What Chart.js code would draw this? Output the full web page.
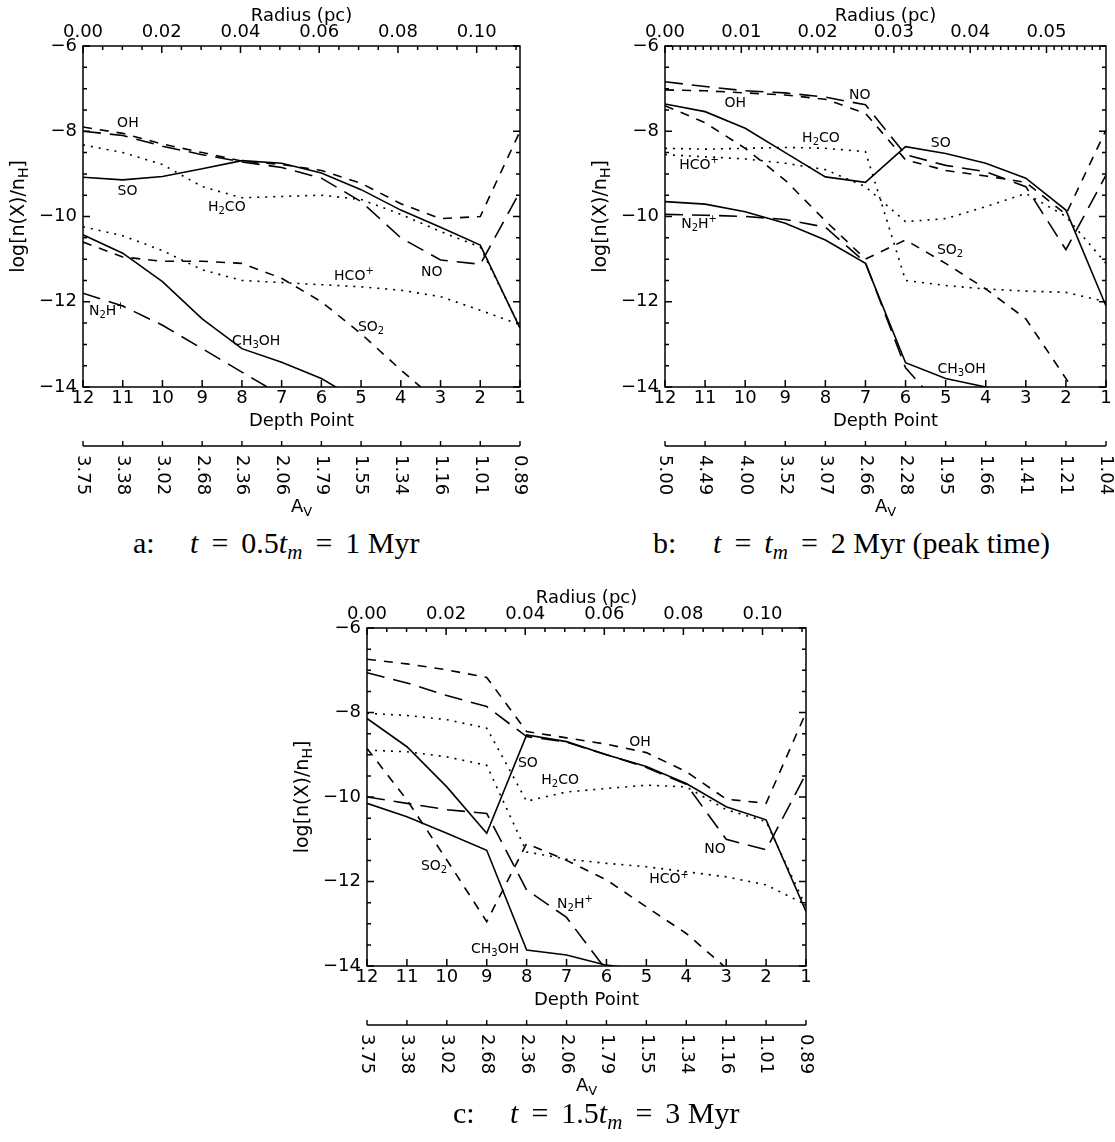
<!DOCTYPE html>
<html>
<head>
<meta charset="utf-8">
<script src="https://cdn.jsdelivr.net/npm/chart.js@4.4.1/dist/chart.umd.min.js"></script>
<style>
  html, body { margin: 0; padding: 0; background: #fff; }
  body { position: relative; width: 1115px; height: 1142px; overflow: hidden; }
  canvas { position: absolute; display: block; }
  .cap { position: absolute; font-family: "Liberation Serif", "DejaVu Serif", serif; font-size: 30px; line-height: 30px; color: #000; white-space: nowrap; }
  .cap .f { position: absolute; top: 0; }
  .cap .eq { display: inline-block; width: 23px; text-align: center; margin: 0 10px; }
  .cap sub { font-size: 21px; line-height: 0; vertical-align: -6px; }
</style>
</head>
<body>
<canvas id="panelA" width="545" height="525" style="left:0px;top:0px"></canvas>
<canvas id="panelB" width="533" height="525" style="left:582px;top:0px"></canvas>
<canvas id="panelC" width="545" height="530" style="left:284px;top:582px"></canvas>

<div class="cap" style="left:133px;top:528px">a:<span class="f" style="left:57px"><i>t</i><span class="eq">=</span>0.5<i>t</i><sub><i>m</i></sub><span class="eq">=</span>1&nbsp;Myr</span></div>
<div class="cap" style="left:653px;top:528px">b:<span class="f" style="left:60px"><i>t</i><span class="eq">=</span><i>t</i><sub><i>m</i></sub><span class="eq">=</span>2&nbsp;Myr (peak time)</span></div>
<div class="cap" style="left:453px;top:1098px">c:<span class="f" style="left:57px"><i>t</i><span class="eq">=</span>1.5<i>t</i><sub><i>m</i></sub><span class="eq">=</span>3&nbsp;Myr</span></div>

<script>
// Depth points run from the cloud centre (12) out to the edge (1).
const depthPoints = [12, 11, 10, 9, 8, 7, 6, 5, 4, 3, 2, 1];

// Visual extinction at each depth point (second axis under each panel).
const avLabelsAC = ['3.75', '3.38', '3.02', '2.68', '2.36', '2.06', '1.79', '1.55', '1.34', '1.16', '1.01', '0.89'];
const avLabelsB  = ['5.00', '4.49', '4.00', '3.52', '3.07', '2.66', '2.28', '1.95', '1.66', '1.41', '1.21', '1.04'];

// Radius axis along the top of each panel (pc).
const radiusTicksAC = [0.00, 0.02, 0.04, 0.06, 0.08, 0.10];
const radiusTicksB  = [0.00, 0.01, 0.02, 0.03, 0.04, 0.05];
const yTicks = [-14, -12, -10, -8, -6];

// log fractional abundances, t = 1 Myr
const ohA    = [-7.9, -8.05, -8.3, -8.5, -8.7, -8.78, -8.92, -9.22, -9.7, -10.05, -10.0, -8.0];
const noA    = [-8.0, -8.1, -8.35, -8.55, -8.72, -8.85, -9.1, -9.65, -10.5, -11.02, -11.12, -9.42];
const soA    = [-9.08, -9.14, -9.06, -8.88, -8.69, -8.75, -8.98, -9.37, -9.85, -10.25, -10.67, -12.62];
const h2coA  = [-8.32, -8.5, -8.78, -9.3, -9.56, -9.53, -9.5, -9.6, -9.95, -10.35, -10.72, -12.6];
const hcoA   = [-10.24, -10.45, -10.8, -11.25, -11.5, -11.55, -11.6, -11.65, -11.73, -11.88, -12.2, -12.54];
const so2A   = [-10.6, -10.95, -11.05, -11.05, -11.1, -11.45, -12.0, -12.75, -13.6, -14.4, null, null];
const n2hA   = [-11.8, -12.1, -12.55, -13.1, -13.65, -14.2, null, null, null, null, null, null];
const ch3ohA = [-10.43, -10.86, -11.53, -12.4, -13.1, -13.42, -13.8, -14.35, null, null, null, null];

// log fractional abundances, t = 2 Myr
const ohB    = [-7.03, -7.05, -7.1, -7.15, -7.25, -7.58, -8.67, -8.92, -9.05, -9.2, -9.95, -7.97];
const noB    = [-6.84, -6.95, -7.05, -7.1, -7.2, -7.38, -8.55, -8.8, -8.95, -9.3, -10.78, -9.03];
const soB    = [-7.36, -7.54, -7.93, -8.5, -9.07, -9.2, -8.36, -8.52, -8.75, -9.1, -9.85, -12.1];
const h2coB  = [-8.4, -8.42, -8.4, -8.38, -8.4, -8.48, -11.5, -11.62, -11.7, -11.75, -11.78, -12.0];
const hcoB   = [-8.55, -8.6, -8.65, -8.75, -8.9, -9.3, -10.12, -10.05, -9.77, -9.46, -10.0, -11.1];
const so2B   = [-7.4, -7.8, -8.4, -9.15, -10.1, -11.0, -10.55, -11.1, -11.7, -12.4, -13.8, -15.2];
const n2hB   = [-9.95, -9.97, -10.0, -10.07, -10.25, -11.08, -13.55, -14.6, null, null, null, null];
const ch3ohB = [-9.65, -9.71, -9.89, -10.16, -10.55, -11.1, -13.43, -13.8, -14.0, -14.2, null, null];

// log fractional abundances, t = 3 Myr
const ohC    = [-6.74, -6.85, -6.99, -7.17, -8.45, -8.6, -8.75, -8.95, -9.4, -10.05, -10.15, -8.0];
const noC    = [-7.06, -7.3, -7.6, -7.86, -8.57, -8.7, -9.0, -9.3, -9.7, -11.0, -11.25, -9.45];
const soC    = [-8.14, -8.81, -9.76, -10.86, -8.53, -8.69, -9.0, -9.28, -9.68, -10.23, -10.54, -12.71];
const h2coC  = [-8.02, -8.07, -8.17, -8.37, -10.1, -9.88, -9.8, -9.72, -9.76, -10.3, -10.58, -12.6];
const hcoC   = [-8.89, -8.93, -9.05, -9.25, -11.3, -11.47, -11.57, -11.65, -11.77, -11.89, -12.08, -12.55];
const so2C   = [-8.85, -10.07, -11.49, -12.95, -11.1, -11.5, -11.96, -12.6, -13.23, -14.05, null, null];
const n2hC   = [-10.0, -10.15, -10.3, -10.39, -12.2, -12.85, -14.1, null, null, null, null, null];
const ch3ohC = [-10.15, -10.47, -10.86, -11.26, -13.62, -13.74, -13.98, -14.1, null, null, null, null];

// Species name tags: [name, depth point, log abundance] ('_' = subscript, '^' = superscript)
const tagsA = [['OH', 10.87, -7.81], ['SO', 10.88, -9.4], ['H_2CO', 8.38, -9.78], ['N_2H^+', 11.4, -12.22],
               ['CH_3OH', 7.64, -12.92], ['HCO^+', 5.18, -11.4], ['SO_2', 4.75, -12.6], ['NO', 3.22, -11.3]];
const tagsB = [['NO', 7.14, -7.15], ['OH', 10.25, -7.34], ['H_2CO', 8.11, -8.16], ['HCO^+', 11.15, -8.79],
               ['SO', 5.12, -8.28], ['N_2H^+', 11.15, -10.18], ['SO_2', 4.89, -10.79], ['CH_3OH', 4.6, -13.58]];
const tagsC = [['SO', 7.97, -9.2], ['H_2CO', 7.16, -9.6], ['SO_2', 10.32, -11.63], ['CH_3OH', 8.79, -13.6],
               ['N_2H^+', 6.79, -12.53], ['OH', 5.16, -8.7], ['NO', 3.28, -11.23], ['HCO^+', 4.43, -11.96]];

// Line style per species
const DASH = {
  OH: [9, 8], NO: [18, 9], SO: [], H2CO: [2, 6],
  HCO: [2, 6], SO2: [9, 8], N2H: [18, 9], CH3OH: []
};

const FONT = '"DejaVu Sans", sans-serif';
const AXIS_SIZE = 18;
Chart.defaults.font.family = FONT;
Chart.defaults.font.size = AXIS_SIZE;
Chart.defaults.color = '#000';

function parseTag(s) {
  const out = [];
  for (let i = 0; i < s.length; i++) {
    const c = s[i];
    if ((c === '_' || c === '^') && i + 1 < s.length) {
      out.push({ t: s[i + 1], k: c === '_' ? 'sub' : 'sup' });
      i++;
    } else if (out.length && !out[out.length - 1].k) {
      out[out.length - 1].t += c;
    } else {
      out.push({ t: c, k: null });
    }
  }
  return out;
}

function drawRich(ctx, segs, cx, cy, size) {
  const small = Math.round(size * 0.72);
  let total = 0;
  segs.forEach(s => {
    ctx.font = `${s.k ? small : size}px ${FONT}`;
    s.w = ctx.measureText(s.t).width;
    total += s.w;
  });
  let x = cx - total / 2;
  ctx.textAlign = 'left';
  ctx.textBaseline = 'middle';
  segs.forEach(s => {
    ctx.font = `${s.k ? small : size}px ${FONT}`;
    const dy = s.k === 'sub' ? size * 0.3 : (s.k === 'sup' ? -size * 0.33 : 0);
    ctx.fillText(s.t, x, cy + dy);
    x += s.w;
  });
}

function makePanel(id, cfg) {
  const names = ['OH', 'NO', 'SO', 'H2CO', 'HCO', 'SO2', 'N2H', 'CH3OH'];
  const datasets = names.map(n => ({
    label: n,
    data: depthPoints.map((d, i) => ({ x: d, y: cfg.series[n][i] })),
    borderColor: '#000',
    borderWidth: 1.6,
    borderDash: DASH[n],
    pointRadius: 0,
    tension: 0,
    fill: false,
    spanGaps: false,
    clip: 0
  }));

  const decor = {
    id: 'decor_' + id,
    afterDatasetsDraw(chart) {
      const { ctx, chartArea: a, scales } = chart;
      const x = scales.x, y = scales.y, xr = scales.xr;
      ctx.save();
      ctx.strokeStyle = '#000';
      ctx.fillStyle = '#000';
      ctx.lineWidth = 1.5;
      ctx.setLineDash([]);
      // plot frame
      ctx.strokeRect(a.left, a.top, a.right - a.left, a.bottom - a.top);
      ctx.beginPath();
      // left / right ticks every 0.5 dex, longer on the labelled values
      for (let k = 0; k <= 16; k++) {
        const py = y.getPixelForValue(-14 + k * 0.5);
        const len = k % 4 === 0 ? 7 : 4;
        ctx.moveTo(a.left, py); ctx.lineTo(a.left + len, py);
        ctx.moveTo(a.right, py); ctx.lineTo(a.right - len, py);
      }
      // radius ticks along the top
      const n = Math.floor(cfg.rMax / cfg.rMinor + 1e-6);
      for (let i = 0; i <= n; i++) {
        const px = xr.getPixelForValue(i * cfg.rMinor);
        const len = i % cfg.rEvery === 0 ? 7 : 4;
        ctx.moveTo(px, a.top); ctx.lineTo(px, a.top + len);
      }
      // depth point ticks along the bottom
      depthPoints.forEach(d => {
        const px = x.getPixelForValue(d);
        ctx.moveTo(px, a.bottom); ctx.lineTo(px, a.bottom - 7);
      });
      ctx.stroke();

      // species name tags
      ctx.lineWidth = 1;
      cfg.tags.forEach(([t, d, v]) => {
        drawRich(ctx, parseTag(t), x.getPixelForValue(d), y.getPixelForValue(v), 14);
      });

      // y-axis title
      ctx.save();
      ctx.translate(a.left - 64, (a.top + a.bottom) / 2);
      ctx.rotate(-Math.PI / 2);
      drawRich(ctx, [{ t: 'log[n(X)/n', k: null }, { t: 'H', k: 'sub' }, { t: ']', k: null }], 0, 0, 19);
      ctx.restore();

      // extinction axis below the depth-point axis
      const yl = a.bottom + 59;
      ctx.lineWidth = 1.4;
      ctx.beginPath();
      ctx.moveTo(x.getPixelForValue(12), yl);
      ctx.lineTo(x.getPixelForValue(1), yl);
      depthPoints.forEach(d => {
        const px = x.getPixelForValue(d);
        ctx.moveTo(px, yl); ctx.lineTo(px, yl - 5);
      });
      ctx.stroke();
      ctx.font = `${AXIS_SIZE}px ${FONT}`;
      depthPoints.forEach((d, i) => {
        const px = x.getPixelForValue(d);
        ctx.save();
        ctx.translate(px, yl + 9);
        ctx.rotate(Math.PI / 2);
        ctx.textAlign = 'left';
        ctx.textBaseline = 'middle';
        ctx.fillText(cfg.av[i], 0, 0);
        ctx.restore();
      });
      drawRich(ctx, [{ t: 'A', k: null }, { t: 'V', k: 'sub' }], (a.left + a.right) / 2, yl + 61, AXIS_SIZE);
      ctx.restore();
    }
  };

  return new Chart(document.getElementById(id), {
    type: 'line',
    data: { datasets },
    options: {
      responsive: false,
      animation: false,
      devicePixelRatio: 1,
      layout: { padding: { left: 0, top: 0, right: cfg.padRight, bottom: cfg.padBottom } },
      plugins: { legend: { display: false }, tooltip: { enabled: false } },
      scales: {
        x: {
          type: 'linear', position: 'bottom', min: 1, max: 12, reverse: true,
          afterBuildTicks: s => { s.ticks = depthPoints.map(v => ({ value: v })); },
          ticks: { padding: 1, autoSkip: false, maxRotation: 0, minRotation: 0, callback: v => String(v) },
          grid: { display: false, drawTicks: false },
          border: { display: false },
          title: { display: true, text: 'Depth Point', padding: { top: 0, bottom: 15 } },
          afterFit: s => { s.height = 60; }
        },
        xr: {
          type: 'linear', position: 'top', min: 0, max: cfg.rMax,
          afterBuildTicks: s => { s.ticks = cfg.rTicks.map(v => ({ value: v })); },
          ticks: { padding: 3, autoSkip: false, maxRotation: 0, minRotation: 0, callback: v => v.toFixed(2) },
          grid: { display: false, drawTicks: false },
          border: { display: false },
          title: { display: true, text: 'Radius (pc)', padding: { top: 6, bottom: 0 } },
          afterFit: s => { s.height = 46; }
        },
        y: {
          type: 'linear', position: 'left', min: -14, max: -6,
          afterBuildTicks: s => { s.ticks = yTicks.map(v => ({ value: v })); },
          ticks: { padding: 6, callback: v => (v < 0 ? '\u2212' + Math.abs(v) : String(v)) },
          grid: { display: false, drawTicks: false },
          border: { display: false },
          afterFit: s => { s.width = 83; }
        }
      }
    },
    plugins: [decor]
  });
}

makePanel('panelA', {
  series: { OH: ohA, NO: noA, SO: soA, H2CO: h2coA, HCO: hcoA, SO2: so2A, N2H: n2hA, CH3OH: ch3ohA },
  tags: tagsA, av: avLabelsAC, rMax: 0.111, rTicks: radiusTicksAC, rMinor: 0.005, rEvery: 4,
  padRight: 25, padBottom: 78
});
makePanel('panelB', {
  series: { OH: ohB, NO: noB, SO: soB, H2CO: h2coB, HCO: hcoB, SO2: so2B, N2H: n2hB, CH3OH: ch3ohB },
  tags: tagsB, av: avLabelsB, rMax: 0.0578, rTicks: radiusTicksB, rMinor: 0.001, rEvery: 10,
  padRight: 9, padBottom: 78
});
makePanel('panelC', {
  series: { OH: ohC, NO: noC, SO: soC, H2CO: h2coC, HCO: hcoC, SO2: so2C, N2H: n2hC, CH3OH: ch3ohC },
  tags: tagsC, av: avLabelsAC, rMax: 0.111, rTicks: radiusTicksAC, rMinor: 0.005, rEvery: 4,
  padRight: 23, padBottom: 86
});
</script>
</body>
</html>
